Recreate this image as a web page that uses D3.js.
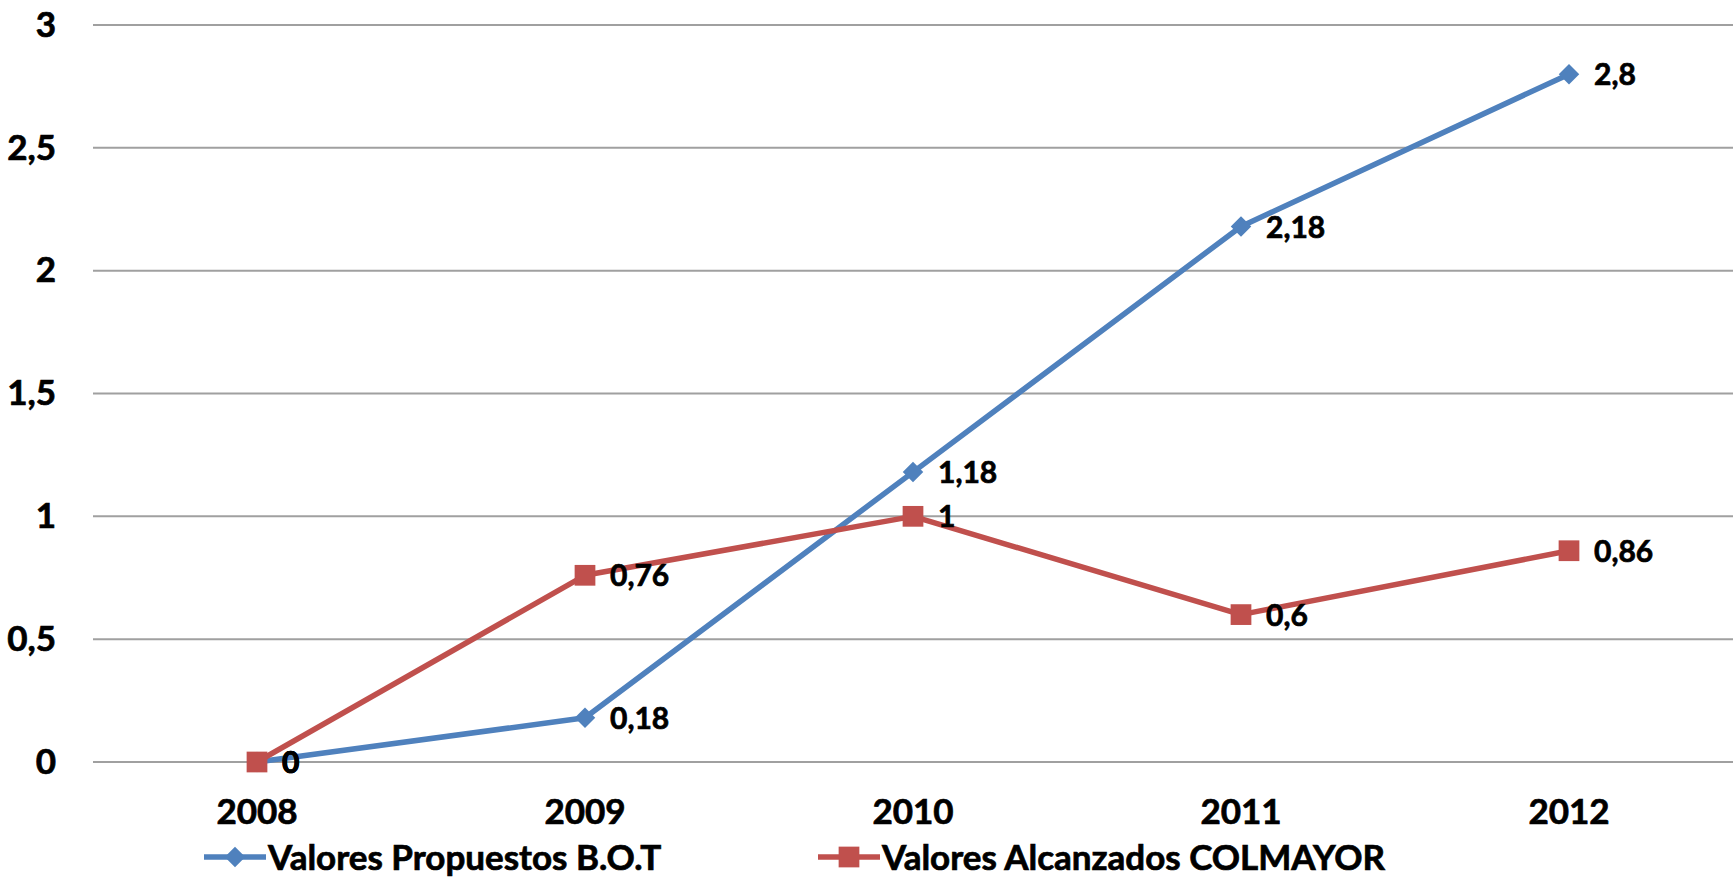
<!DOCTYPE html>
<html>
<head>
<meta charset="utf-8">
<script src="https://cdn.jsdelivr.net/npm/d3@7"></script>
<style>
  html, body { margin: 0; padding: 0; background: #fff; }
  svg { display: block; font-family: Lato, "Open Sans", sans-serif; font-weight: bold; }
  svg text { stroke: #000; stroke-width: 0.7px; }
</style>
</head>
<body>
<script>
"use strict";

// chart data
const years = ["2008", "2009", "2010", "2011", "2012"];
const propuestos = [0, 0.18, 1.18, 2.18, 2.8];
const alcanzados = [0, 0.76, 1, 0.6, 0.86];
const yTicks = [0, 0.5, 1, 1.5, 2, 2.5, 3];
const seriesNames = ["Valores Propuestos B.O.T", "Valores Alcanzados COLMAYOR"];

const width = 1733;
const height = 877;
const plotLeft = 93, plotRight = 1733, plotTop = 25, plotBottom = 762;

const blue = "#4f81bd";
const red = "#c0504d";

const locale = d3.formatLocale({ decimal: ",", thousands: ".", grouping: [3], currency: ["$", ""] });
const fmt = locale.format("~g");

const svg = d3.select("body").append("svg")
  .attr("width", width)
  .attr("height", height);

const x = d3.scaleBand().domain(years).range([plotLeft, plotRight]);
const y = d3.scaleLinear().domain([0, 3]).range([plotBottom, plotTop]);
const cx = (d) => x(d) + x.bandwidth() / 2;

// gridlines
svg.append("g")
  .selectAll("line")
  .data(yTicks)
  .join("line")
  .attr("x1", plotLeft)
  .attr("x2", plotRight)
  .attr("y1", (d) => y(d))
  .attr("y2", (d) => y(d))
  .attr("stroke", "#a0a0a0")
  .attr("stroke-width", 2);

// y axis labels
const yAxis = svg.append("g")
  .attr("transform", `translate(${plotLeft},0)`)
  .call(d3.axisLeft(y).tickValues(yTicks).tickSize(0).tickPadding(37).tickFormat(fmt));
yAxis.select(".domain").remove();
yAxis.selectAll("text")
  .attr("font-family", "Lato, 'Open Sans', sans-serif")
  .attr("font-weight", "bold")
  .attr("font-size", 35)
  .attr("fill", "#000");

// x axis labels
const xAxis = svg.append("g")
  .attr("transform", `translate(0,${plotBottom})`)
  .call(d3.axisBottom(x).tickSize(0).tickPadding(37));
xAxis.select(".domain").remove();
xAxis.selectAll("text")
  .attr("font-family", "Lato, 'Open Sans', sans-serif")
  .attr("font-weight", "bold")
  .attr("font-size", 35)
  .attr("fill", "#000");

const series = [
  { name: seriesNames[0], values: propuestos, color: blue, shape: d3.symbolSquare, size: 210, rotate: 45 },
  { name: seriesNames[1], values: alcanzados, color: red, shape: d3.symbolSquare, size: 430, rotate: 0 }
];

const line = d3.line()
  .x((d, i) => cx(years[i]))
  .y((d) => y(d));

for (const s of series) {
  svg.append("path")
    .datum(s.values)
    .attr("fill", "none")
    .attr("stroke", s.color)
    .attr("stroke-width", 5.5)
    .attr("stroke-linejoin", "round")
    .attr("d", line);
}

for (const s of series) {
  svg.append("g")
    .selectAll("path")
    .data(s.values)
    .join("path")
    .attr("transform", (d, i) => `translate(${cx(years[i])},${y(d)}) rotate(${s.rotate})`)
    .attr("d", d3.symbol().type(s.shape).size(s.size))
    .attr("fill", s.color);
}

for (const s of series) {
  svg.append("g")
    .selectAll("text")
    .data(s.values)
    .join("text")
    .attr("x", (d, i) => cx(years[i]) + 25)
    .attr("y", (d) => y(d))
    .attr("dy", "0.37em")
    .attr("font-size", 30)
    .attr("fill", "#000")
    .text((d) => fmt(d));
}

// legend
const legendX = [204, 818];
const legendY = 857;
series.forEach((s, i) => {
  const g = svg.append("g").attr("transform", `translate(${legendX[i]},${legendY})`);
  g.append("line")
    .attr("x1", 0).attr("x2", 62)
    .attr("stroke", s.color).attr("stroke-width", 5.5);
  g.append("path")
    .attr("transform", `translate(31,0) rotate(${s.rotate})`)
    .attr("d", d3.symbol().type(s.shape).size(s.size))
    .attr("fill", s.color);
  g.append("text")
    .attr("x", 64)
    .attr("dy", "0.36em")
    .attr("font-size", 35)
    .attr("fill", "#000")
    .text(s.name);
});
</script>
</body>
</html>
